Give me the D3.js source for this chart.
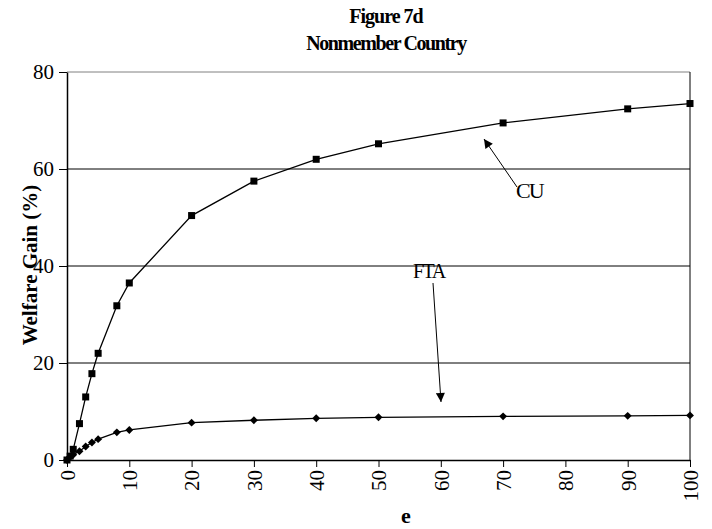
<!DOCTYPE html>
<html>
<head>
<meta charset="utf-8">
<script src="https://cdn.jsdelivr.net/npm/d3@7"></script>
<style>
body { margin: 0; background: #fff; }
text { font-family: "Liberation Serif", "DejaVu Serif", serif; fill: #000; }
</style>
</head>
<body>
<div id="chart"></div>
<script>
// data
var eVals = [0, 0.5, 1, 2, 3, 4, 5, 8, 10, 20, 30, 40, 50, 70, 90, 100]
var cuVals = [0, 0.8, 2.2, 7.5, 13, 17.8, 22, 31.8, 36.5, 50.4, 57.5, 62, 65.2, 69.5, 72.4, 73.5]
var ftaVals = [0, 0.6, 1.1, 1.8, 2.8, 3.6, 4.3, 5.7, 6.2, 7.7, 8.2, 8.6, 8.8, 9.0, 9.1, 9.2]
var xTicks = [0, 10, 20, 30, 40, 50, 60, 70, 80, 90, 100]
var yTicks = [0, 20, 40, 60, 80]

var margin = {top: 72, right: 22, bottom: 69, left: 67}
var width = 712 - margin.left - margin.right
var height = 529 - margin.top - margin.bottom

var svg = d3.select("#chart")
    .append("svg")
        .attr("width", 712)
        .attr("height", 529)

var g = svg.append("g")
    .attr("transform", `translate(${margin.left}, ${margin.top})`)

const x = d3.scaleLinear().domain([0, 100]).range([0, width])
const y = d3.scaleLinear().domain([0, 80]).range([height, 0])

// gridlines
g.selectAll(".grid")
    .data(yTicks.filter(d => d > 0))
    .join("line")
    .attr("x1", 0).attr("x2", width)
    .attr("y1", d => y(d)).attr("y2", d => y(d))
    .style("stroke", d => d == 80 ? "#808080" : "#000")
    .style("stroke-width", 1)

// right border
g.append("line")
    .attr("x1", width).attr("x2", width)
    .attr("y1", 0).attr("y2", height)
    .style("stroke", "#000")

// axes
var xAxis = g.append("g")
    .attr("transform", `translate(0, ${height})`)
    .call(d3.axisBottom(x).tickValues(xTicks).tickSize(7).tickSizeOuter(0))
xAxis.select(".domain").style("stroke-width", 1.5)
xAxis.selectAll("text")
    .style("font-size", "21px")
    .attr("transform", "rotate(-90)")
    .attr("text-anchor", "end")
    .attr("dy", "0.35em")
    .attr("y", 0)
    .attr("x", -10)

var yAxis = g.append("g")
    .call(d3.axisLeft(y).tickValues(yTicks).tickSize(8).tickSizeOuter(0))
yAxis.select(".domain").style("stroke-width", 1.5)
yAxis.selectAll("text")
    .style("font-size", "21px")
    .attr("x", -13)

// lines
var line = d3.line()
    .x(d => x(d[0]))
    .y(d => y(d[1]))

var cu = eVals.map((e, i) => [e, cuVals[i]])
var fta = eVals.map((e, i) => [e, ftaVals[i]])

g.append("path").datum(cu).attr("d", line)
    .style("fill", "none").style("stroke", "#000").style("stroke-width", 1.3)
g.append("path").datum(fta).attr("d", line)
    .style("fill", "none").style("stroke", "#000").style("stroke-width", 1.3)

g.selectAll(".sq")
    .data(cu)
    .join("rect")
    .attr("x", d => x(d[0]) - 3.5)
    .attr("y", d => y(d[1]) - 3.5)
    .attr("width", 7)
    .attr("height", 7)
    .style("fill", "#000")

g.selectAll(".dm")
    .data(fta)
    .join("path")
    .attr("d", d3.symbol().type(d3.symbolDiamond2).size(40))
    .attr("transform", d => `translate(${x(d[0])}, ${y(d[1])})`)
    .style("fill", "#000")

// annotations
var defs = svg.append("defs")
defs.append("marker")
    .attr("id", "arrow")
    .attr("viewBox", "0 0 10 10")
    .attr("refX", 10).attr("refY", 5)
    .attr("markerWidth", 12).attr("markerHeight", 9)
    .attr("markerUnits", "userSpaceOnUse")
    .attr("orient", "auto")
    .append("path")
    .attr("d", "M0,0 L10,5 L0,10 z")
    .style("fill", "#000")

svg.append("line")
    .attr("x1", 517).attr("y1", 187)
    .attr("x2", 484).attr("y2", 139)
    .style("stroke", "#000").attr("marker-end", "url(#arrow)")
svg.append("text")
    .attr("x", 516).attr("y", 198)
    .style("font-size", "22px")
    .style("letter-spacing", "-2px")
    .text("CU")

svg.append("line")
    .attr("x1", 433).attr("y1", 283)
    .attr("x2", 441).attr("y2", 402)
    .style("stroke", "#000").attr("marker-end", "url(#arrow)")
svg.append("text")
    .attr("x", 413).attr("y", 278)
    .style("font-size", "20px")
    .style("letter-spacing", "-1.5px")
    .text("FTA")

// titles
svg.append("text")
    .attr("x", 386).attr("y", 23)
    .attr("text-anchor", "middle")
    .style("font-size", "20px")
    .style("font-weight", "bold")
    .style("letter-spacing", "-1px")
    .text("Figure  7d")
svg.append("text")
    .attr("x", 386).attr("y", 50)
    .attr("text-anchor", "middle")
    .style("font-size", "20px")
    .style("font-weight", "bold")
    .style("letter-spacing", "-1.4px")
    .text("Nonmember Country")

svg.append("text")
    .attr("transform", "translate(37, 265) rotate(-90)")
    .attr("text-anchor", "middle")
    .style("font-size", "21px")
    .style("font-weight", "bold")
    .text("Welfare Gain (%)")

svg.append("text")
    .attr("x", 406).attr("y", 523)
    .attr("text-anchor", "middle")
    .style("font-size", "22px")
    .style("font-weight", "bold")
    .text("e")
</script>
</body>
</html>
